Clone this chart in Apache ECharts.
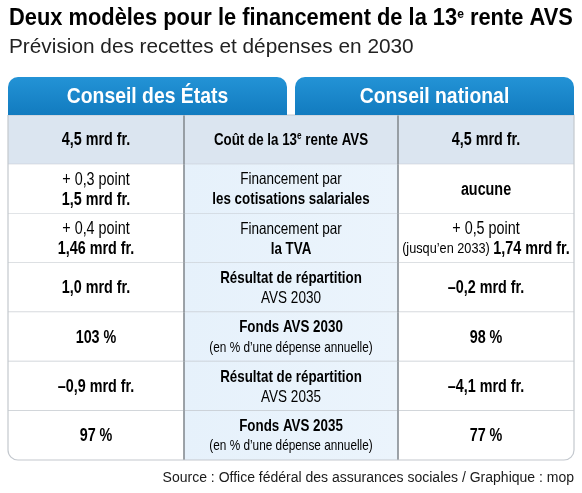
<!DOCTYPE html>
<html>
<head>
<meta charset="utf-8">
<script src="https://cdn.jsdelivr.net/npm/echarts@6/dist/echarts.min.js"></script>
<style>
  html, body { margin: 0; padding: 0; background: #ffffff; }
  #chart { width: 582px; height: 493px; }
</style>
</head>
<body>
<div id="chart"></div>
<script>
// ---------- data ----------
const titleText = '{a|Deux modèles pour le financement de la 13}{e|e}{a| rente AVS}';
const subtitleText = 'Prévision des recettes et dépenses en 2030';
const sourceText = 'Source : Office fédéral des assurances sociales / Graphique : mop';
const councils = ['Conseil des États', 'Conseil national'];
const indicators = [
  '{b|Coût de la 13}{sup|e}{b| rente AVS}',
  '{r|Financement par}\n{b|les cotisations salariales}',
  '{r|Financement par}\n{b|la TVA}',
  '{b|Résultat de répartition}\n{r|AVS 2030}',
  '{b|Fonds AVS 2030}\n{s|(en % d’une dépense annuelle)}',
  '{b|Résultat de répartition}\n{r|AVS 2035}',
  '{b|Fonds AVS 2035}\n{s|(en % d’une dépense annuelle)}'
];
const conseilEtats = [
  '{b|4,5 mrd fr.}',
  '{r|+ 0,3 point}\n{b|1,5 mrd fr.}',
  '{r|+ 0,4 point}\n{b|1,46 mrd fr.}',
  '{b|1,0 mrd fr.}',
  '{b|103 %}',
  '{b|–0,9 mrd fr.}',
  '{b|97 %}'
];
const conseilNational = [
  '{b|4,5 mrd fr.}',
  '{b|aucune}',
  '{r|+ 0,5 point}\n{s|(jusqu’en 2033) }{b|1,74 mrd fr.}',
  '{b|–0,2 mrd fr.}',
  '{b|98 %}',
  '{b|–4,1 mrd fr.}',
  '{b|77 %}'
];
const columns = [conseilEtats, indicators, conseilNational];
const rowKeys = indicators.map((_, i) => 'r' + i);

// ---------- layout / style ----------
const COL_W = [176, 214, 176];
const COL_EDGES = COL_W.reduce((a, w) => { a.push(a[a.length - 1] + w); return a; }, [0]);
const HEADER_H = 38;
const TAB_GAP = 8;
const SANS = "'Liberation Sans', Arial, Roboto, sans-serif";
const CONDENSE = 0.82;
const INK = '#141414';

function richFor(col) {
  const mid = col === 1;
  return {
    b: { fontFamily: SANS, fontWeight: 'bold', fontSize: mid ? 16.3 : 17.5, color: INK, lineHeight: 20 },
    r: { fontFamily: SANS, fontWeight: 'normal', fontSize: mid ? 16.5 : 17.5, color: '#1e1e1e', lineHeight: 20 },
    s: { fontFamily: SANS, fontWeight: 'normal', fontSize: mid ? 14.4 : 15.5, color: '#1e1e1e', lineHeight: 20 },
    sup: { fontFamily: SANS, fontWeight: 'bold', fontSize: 10, color: INK, lineHeight: 20, verticalAlign: 'top', padding: [1, 0, 0, 0] }
  };
}

const cellData = [];
columns.forEach((arr, c) => arr.forEach((_, r) => cellData.push([c, r])));

function bandInfo(api, r) {
  const h = api.size([0, 1])[1];
  const yc = api.coord([0, r])[1];
  return { top: yc - h / 2, h: h, yc: yc };
}

function renderCell(params, api) {
  const c = api.value(0), r = api.value(1);
  const b = bandInfo(api, r);
  const xL = api.coord([COL_EDGES[c], r])[0];
  const xR = api.coord([COL_EDGES[c + 1], r])[0];
  const last = r === rowKeys.length - 1;
  let fill = '#ffffff';
  if (r === 0) fill = '#dbe5f0';
  else if (c === 1) fill = new echarts.graphic.LinearGradient(0, 0, 1, 0, [
    { offset: 0, color: '#e6f1fb' }, { offset: 1, color: '#ebf4fc' }]);
  let radius = 0;
  if (last && c === 0) radius = [0, 0, 0, 10];
  if (last && c === 2) radius = [0, 0, 10, 0];
  const children = [{
    type: 'rect',
    shape: { x: xL, y: b.top, width: xR - xL, height: b.h, r: radius },
    style: { fill: fill }
  }];
  if (!last) {
    children.push({
      type: 'line',
      shape: { x1: xL, y1: b.top + b.h, x2: xR, y2: b.top + b.h },
      style: { stroke: '#c3c8ce', lineWidth: 1.2 }
    });
  }
  if (c < 2) {
    children.push({
      type: 'line',
      shape: { x1: xR, y1: b.top, x2: xR, y2: b.top + b.h },
      style: { stroke: '#868c92', lineWidth: 1.6 },
      z2: 5
    });
  }
  children.push({
    type: 'text',
    x: (xL + xR) / 2,
    y: b.yc + 1,
    scaleX: CONDENSE,
    style: {
      text: columns[c][r],
      x: 0, y: 0,
      align: 'center',
      verticalAlign: 'middle',
      rich: richFor(c)
    },
    z2: 10
  });
  return { type: 'group', children: children };
}

function renderBorder(params, api) {
  const n = rowKeys.length;
  const t = bandInfo(api, 0).top;
  const lb = bandInfo(api, n - 1);
  const xL = api.coord([COL_EDGES[0], 0])[0];
  const xR = api.coord([COL_EDGES[COL_EDGES.length - 1], 0])[0];
  return {
    type: 'rect',
    shape: { x: xL, y: t, width: xR - xL, height: lb.top + lb.h - t, r: [0, 0, 10, 10] },
    style: { fill: 'none', stroke: '#c3c8ce', lineWidth: 1.2 }
  };
}

function renderHeader(params, api) {
  const i = api.value(0);
  const t = bandInfo(api, 0).top;
  const total = COL_EDGES[COL_EDGES.length - 1];
  const xL0 = api.coord([0, 0])[0];
  const xR0 = api.coord([total, 0])[0];
  const mid = (xL0 + xR0) / 2;
  const xL = i === 0 ? xL0 : mid + TAB_GAP / 2;
  const xR = i === 0 ? mid - TAB_GAP / 2 : xR0;
  return {
    type: 'group',
    children: [{
      type: 'rect',
      shape: { x: xL, y: t - HEADER_H, width: xR - xL, height: HEADER_H, r: [10, 10, 0, 0] },
      style: {
        fill: new echarts.graphic.LinearGradient(0, 0, 0, 1, [
          { offset: 0, color: '#2393d6' }, { offset: 1, color: '#127bbf' }])
      }
    }, {
      type: 'text',
      x: (xL + xR) / 2,
      y: t - HEADER_H / 2 + 1,
      scaleX: 0.88,
      style: {
        text: councils[i],
        x: 0, y: 0,
        align: 'center',
        verticalAlign: 'middle',
        fontFamily: SANS,
        fontWeight: 'bold',
        fontSize: 22,
        fill: '#ffffff'
      },
      z2: 10
    }]
  };
}

const chart = echarts.init(document.getElementById('chart'), null, { renderer: 'canvas' });
chart.setOption({
  backgroundColor: '#ffffff',
  animation: false,
  graphic: [{
    type: 'text', x: 9, y: 19, scaleX: 0.93,
    style: {
      text: titleText,
      verticalAlign: 'middle',
      rich: {
        a: { fontFamily: SANS, fontWeight: 'bold', fontSize: 23.5, color: '#111111', lineHeight: 26 },
        e: { fontFamily: SANS, fontWeight: 'bold', fontSize: 13, color: '#111111', lineHeight: 26, verticalAlign: 'top', padding: [2, 0, 0, 0] }
      }
    }
  }, {
    type: 'text', x: 9, y: 47,
    style: { text: subtitleText, verticalAlign: 'middle', fontFamily: SANS, fontSize: 20.8, fill: '#222222' }
  }, {
    type: 'text', right: 8, top: 471,
    style: { text: sourceText, fontFamily: SANS, fontSize: 14, fill: '#1a1a1a' }
  }],
  grid: { left: 8, right: 8, top: 115, bottom: 33 },
  xAxis: { type: 'value', min: 0, max: COL_EDGES[COL_EDGES.length - 1], show: false },
  yAxis: { type: 'category', data: rowKeys, inverse: true, show: false },
  series: [{
    type: 'custom',
    renderItem: renderCell,
    data: cellData,
    clip: false,
    silent: true,
    z: 2
  }, {
    type: 'custom',
    renderItem: renderBorder,
    data: [[0, 0]],
    clip: false,
    silent: true,
    z: 3
  }, {
    type: 'custom',
    renderItem: renderHeader,
    data: [[0, 0], [1, 0]],
    clip: false,
    silent: true,
    z: 4
  }]
});
</script>
</body>
</html>
